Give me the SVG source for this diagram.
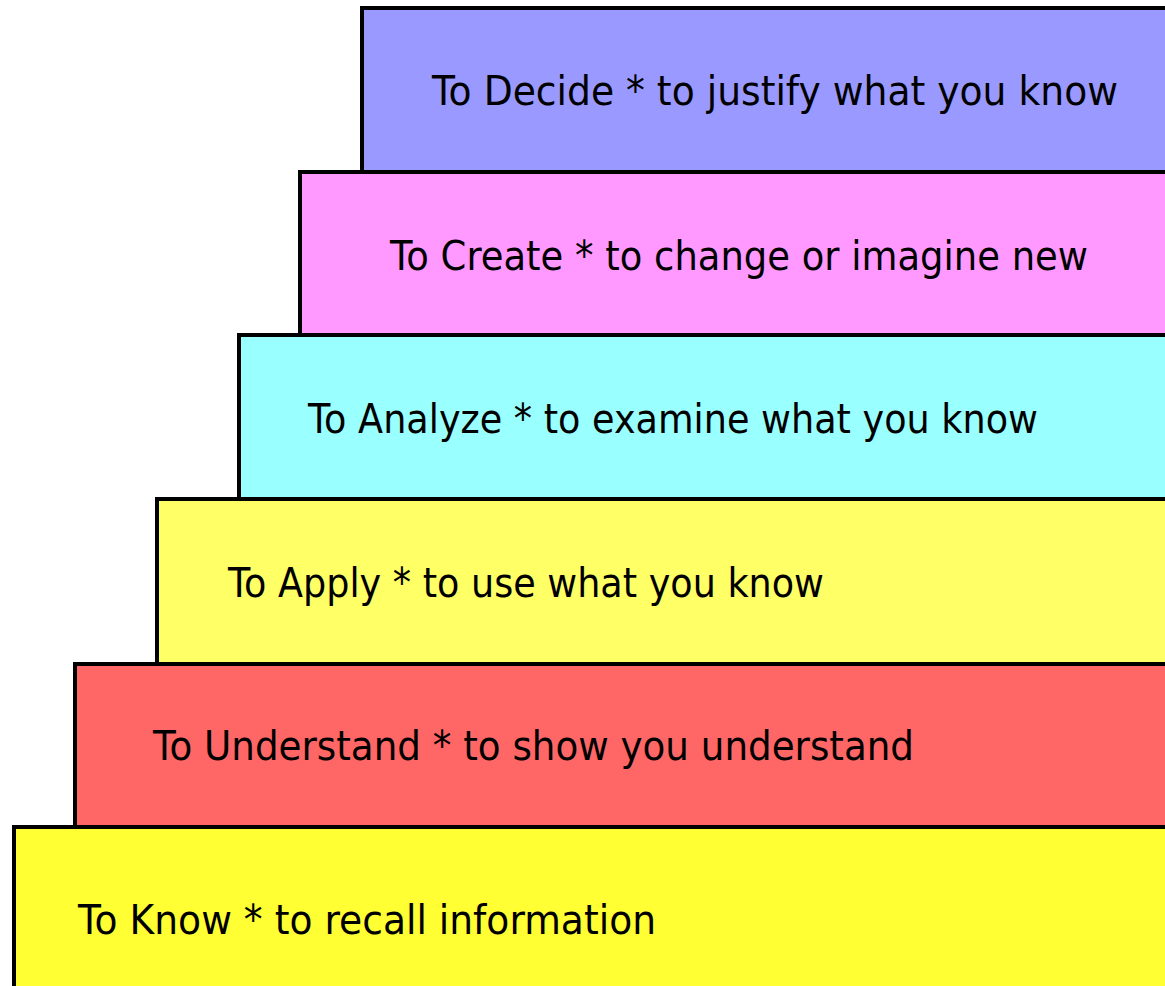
<svg xmlns="http://www.w3.org/2000/svg" width="1165" height="986" viewBox="0 0 1165 986">
<style>
.step{stroke:#000;stroke-width:4}
.lbl{font-family:"DejaVu Sans","Liberation Sans",sans-serif;font-size:40px;fill:#000}
</style>
<rect width="1165" height="986" fill="#fff"/>
<g id="know"><rect class="step" x="14" y="827" width="1160" height="170" fill="#ffff33"/><text class="lbl" x="78" y="934" textLength="578" lengthAdjust="spacingAndGlyphs">To Know * to recall information</text></g>
<g id="understand"><rect class="step" x="75" y="664" width="1100" height="163" fill="#ff6666"/><text class="lbl" x="153" y="760" textLength="761" lengthAdjust="spacingAndGlyphs">To Understand * to show you understand</text></g>
<g id="apply"><rect class="step" x="157" y="499" width="1020" height="165" fill="#ffff66"/><text class="lbl" x="228" y="597" textLength="596" lengthAdjust="spacingAndGlyphs">To Apply * to use what you know</text></g>
<g id="analyze"><rect class="step" x="239" y="335" width="940" height="164" fill="#99ffff"/><text class="lbl" x="308" y="433" textLength="730" lengthAdjust="spacingAndGlyphs">To Analyze * to examine what you know</text></g>
<g id="create"><rect class="step" x="300" y="172" width="880" height="163" fill="#ff99ff"/><text class="lbl" x="390" y="270" textLength="698" lengthAdjust="spacingAndGlyphs">To Create * to change or imagine new</text></g>
<g id="decide"><rect class="step" x="362" y="8" width="820" height="164" fill="#9999ff"/><text class="lbl" x="432" y="105" textLength="686" lengthAdjust="spacingAndGlyphs">To Decide * to justify what you know</text></g>
<g id="connectors"/>
</svg>
